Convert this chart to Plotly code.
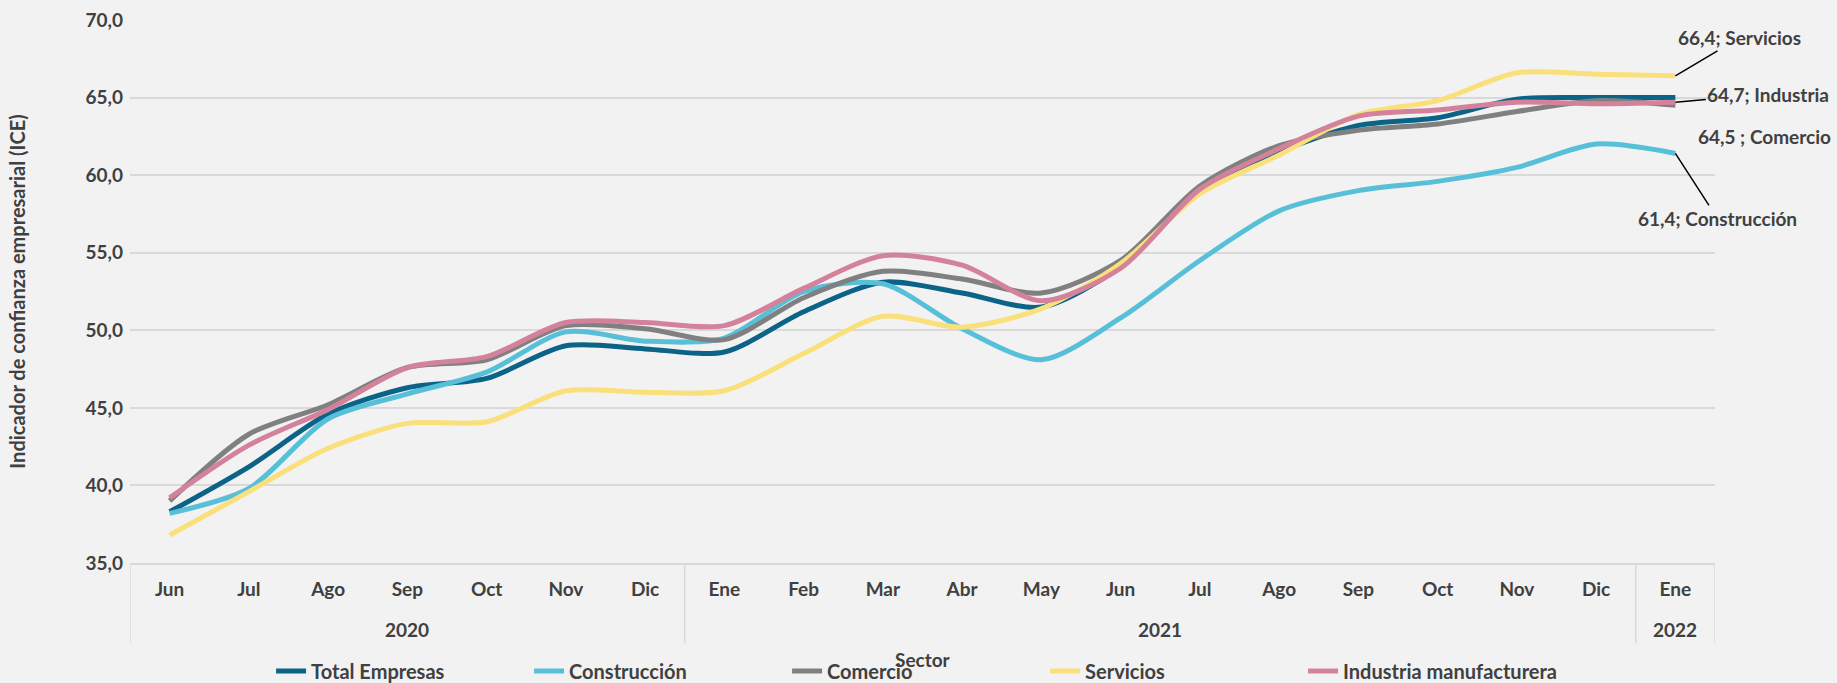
import plotly.graph_objects as go

# Eje X: mes y año
anios = ["2020"] * 7 + ["2021"] * 12 + ["2022"]
meses = ["Jun", "Jul", "Ago", "Sep", "Oct", "Nov", "Dic",
         "Ene", "Feb", "Mar", "Abr", "May", "Jun", "Jul", "Ago", "Sep", "Oct", "Nov", "Dic",
         "Ene"]

# ICE por sector
total_empresas = [38.3, 41.2, 44.6, 46.3, 46.9, 49.0, 48.8, 48.6, 51.2, 53.1,
                  52.4, 51.5, 54.1, 59.0, 61.5, 63.2, 63.7, 64.9, 65.0, 65.0]
construccion = [38.2, 39.8, 44.3, 45.9, 47.3, 49.9, 49.3, 49.5, 52.5, 53.0,
                50.1, 48.1, 50.8, 54.5, 57.7, 59.0, 59.6, 60.5, 62.0, 61.4]
comercio = [39.0, 43.3, 45.2, 47.6, 48.1, 50.3, 50.1, 49.4, 52.1, 53.8,
            53.3, 52.4, 54.5, 59.3, 61.9, 62.9, 63.3, 64.1, 64.8, 64.5]
servicios = [36.8, 39.6, 42.4, 44.0, 44.1, 46.1, 46.0, 46.1, 48.5, 50.9,
             50.2, 51.4, 54.3, 58.8, 61.3, 63.9, 64.8, 66.6, 66.5, 66.4]
industria = [39.2, 42.6, 44.9, 47.6, 48.3, 50.5, 50.5, 50.3, 52.7, 54.8,
             54.2, 51.9, 54.0, 59.1, 61.7, 63.8, 64.2, 64.7, 64.6, 64.7]

series = [
    ("Total Empresas", total_empresas, "#0B6487"),
    ("Construcción", construccion, "#57C0D8"),
    ("Comercio", comercio, "#808080"),
    ("Servicios", servicios, "#F9E07A"),
    ("Industria manufacturera", industria, "#D4829C"),
]

TXT = "#404040"
GRID = "#D9D9D9"
BG = "#F2F2F2"
FONT = "Lato"

# claves únicas por periodo; el eje muestra solo el mes
periodos = [f"{m} {a}" for m, a in zip(meses, anios)]

fig = go.Figure()
for name, vals, color in series:
    fig.add_trace(
        go.Scatter(
            x=periodos,
            y=vals,
            mode="lines",
            name=name,
            line=dict(color=color, width=5, shape="spline", smoothing=0.8),
            hoverinfo="skip",
        )
    )

# segunda fila del eje: años y separadores
grupos = []
for i, a in enumerate(anios):
    if not grupos or grupos[-1][0] != a:
        grupos.append([a, i, i])
    else:
        grupos[-1][2] = i

BOTTOM = -0.148
for a, i0, i1 in grupos:
    fig.add_annotation(
        x=(i0 + i1) / 2, y=-0.1224, xref="x", yref="paper", text=a,
        showarrow=False, yanchor="middle",
        font=dict(size=19, color=TXT, family=FONT, weight="bold"),
    )
bordes = [grupos[0][1] - 0.5] + [g[2] + 0.5 for g in grupos]
for b in bordes:
    fig.add_shape(
        type="line", xref="x", yref="paper", x0=b, x1=b, y0=0, y1=BOTTOM,
        line=dict(color=GRID, width=1.5),
    )

last = len(meses) - 1
etiquetas = [
    # texto, valor, dx, dy, flecha
    ("66,4; Servicios", servicios[-1], 64, -38, True),
    ("64,7; Industria", industria[-1], 93, -8, True),
    ("64,5 ; Comercio", comercio[-1], 89, 31, False),
    ("61,4; Construcción", construccion[-1], 42, 65, True),
]
for txt, val, dx, dy, arrow in etiquetas:
    if arrow:
        fig.add_annotation(
            x=last, y=val, text=txt, showarrow=True, arrowhead=0,
            arrowwidth=1.5, arrowcolor="#000000", ax=dx, ay=dy,
            font=dict(size=19, color=TXT, family=FONT, weight="bold"),
        )
    else:
        fig.add_annotation(
            x=last, y=val, text=txt, showarrow=False, xshift=dx, yshift=-dy,
            font=dict(size=19, color=TXT, family=FONT, weight="bold"),
        )

# titulo del eje X (Excel lo superpone a la leyenda)
fig.add_annotation(
    x=0.5, y=-0.178, xref="paper", yref="paper", text="Sector", showarrow=False,
    yanchor="middle",
    font=dict(size=19, color=TXT, family=FONT, weight="bold"),
)

fig.update_layout(
    width=1837,
    height=683,
    paper_bgcolor=BG,
    plot_bgcolor=BG,
    separators=",.",
    font=dict(family=FONT, size=19, color=TXT, weight="bold"),
    margin=dict(l=130, r=122, t=20, b=120, autoexpand=False),
    showlegend=True,
    legend=dict(
        orientation="h",
        x=0.089,
        y=0.0176,
        yref="container",
        xanchor="left",
        yanchor="middle",
        entrywidth=213,
        entrywidthmode="pixels",
        bgcolor="rgba(0,0,0,0)",
        font=dict(size=20, color=TXT, family=FONT, weight="bold"),
        itemclick=False,
    ),
    xaxis=dict(
        type="category",
        range=[-0.5, len(meses) - 0.5],
        tickmode="array",
        tickvals=periodos,
        ticktext=meses,
        showgrid=False,
        showline=True,
        linecolor=GRID,
        linewidth=1.5,
        ticks="",
        ticklabelstandoff=8,
        tickfont=dict(size=19, color=TXT, family=FONT, weight="bold"),
    ),
    yaxis=dict(
        range=[35, 70],
        dtick=5,
        tickformat=".1f",
        showgrid=True,
        gridcolor=GRID,
        gridwidth=1.5,
        zeroline=False,
        showline=False,
        ticks="",
        ticklabelstandoff=6,
        tickfont=dict(size=19, color=TXT, family=FONT, weight="bold"),
        title=dict(
            text="Indicador de confianza empresarial (ICE)",
            font=dict(size=20, color=TXT, family=FONT, weight="bold"),
            standoff=54,
        ),
    ),
)

# sin el margen por defecto del <body>, la figura ocupa toda la ventana
fig.write_html(
    "out.html",
    config={"displayModeBar": False},
    post_script=f"document.body.style.margin='0';document.body.style.background='{BG}';",
)
